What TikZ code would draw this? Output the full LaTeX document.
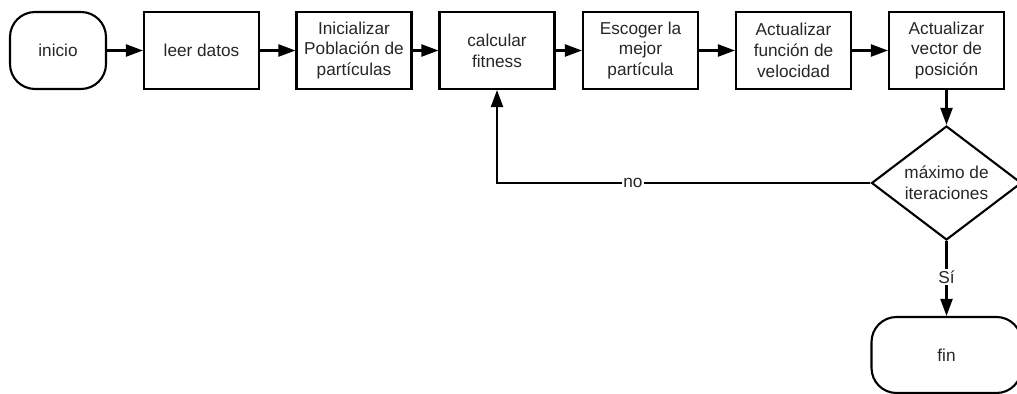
\documentclass[tikz,border=0pt]{standalone}
\usepackage{fontspec}
\setmainfont{Liberation Sans}
\usetikzlibrary{shapes.geometric,arrows.meta}

\begin{document}
\begin{tikzpicture}[x=0.02cm,y={(0cm,-0.02cm)},
	texto/.style={font=\fontsize{9.8}{11.9}\selectfont,text=black!85},
	caja/.style={texto,draw,line width=1.2pt,minimum width=2.3cm,minimum height=1.54cm,align=center,inner sep=1pt},
	terminal/.style={caja,rounded corners=0.5cm},
	decision/.style={texto,draw,line width=1.2pt,diamond,aspect=1.32,minimum width=3cm,minimum height=2.28cm,align=center,inner sep=0pt},
	etiqueta/.style={texto,fill=white,inner sep=1pt},
	flecha/.style={line width=1.2pt,-{Triangle[length=0.34cm,width=0.24cm]}}]
	\useasboundingbox (0,0) rectangle (1017,394);

	\node[terminal,minimum width=1.92cm] (inicio) at (58,50.5) {inicio};
	\node[caja] (leer) at (201.5,50.5) {leer datos};
	\node[caja] (inicializar) at (354,50.5) {Inicializar\\Población de\\partículas};
	\node[caja] (calcular) at (497,50.5) {calcular\\fitness};
	\node[caja] (escoger) at (640.5,50.5) {Escoger la\\mejor\\partícula};
	\node[caja] (velocidad) at (793.5,50.5) {Actualizar\\función de\\velocidad};
	\node[caja] (posicion) at (946.5,50.5) {Actualizar\\vector de\\posición};

	\node[decision] (maximo) at (946.5,183) {máximo de\\iteraciones};
	\node[terminal,minimum width=3cm,minimum height=1.52cm] (fin) at (946.5,355) {fin};

	\draw[flecha] (inicio) -- (leer);
	\draw[flecha] (leer) -- (inicializar);
	\draw[flecha] (inicializar) -- (calcular);
	\draw[flecha] (calcular) -- (escoger);
	\draw[flecha] (escoger) -- (velocidad);
	\draw[flecha] (velocidad) -- (posicion);
	\draw[flecha] (posicion) -- (maximo);

	\draw[flecha] (maximo.west) -| node[etiqueta,pos=0.318] {no} (calcular.south);
	\draw[flecha] (maximo.south) -- node[etiqueta,pos=0.48] {Sí} (fin.north);

\end{tikzpicture}
\end{document}
